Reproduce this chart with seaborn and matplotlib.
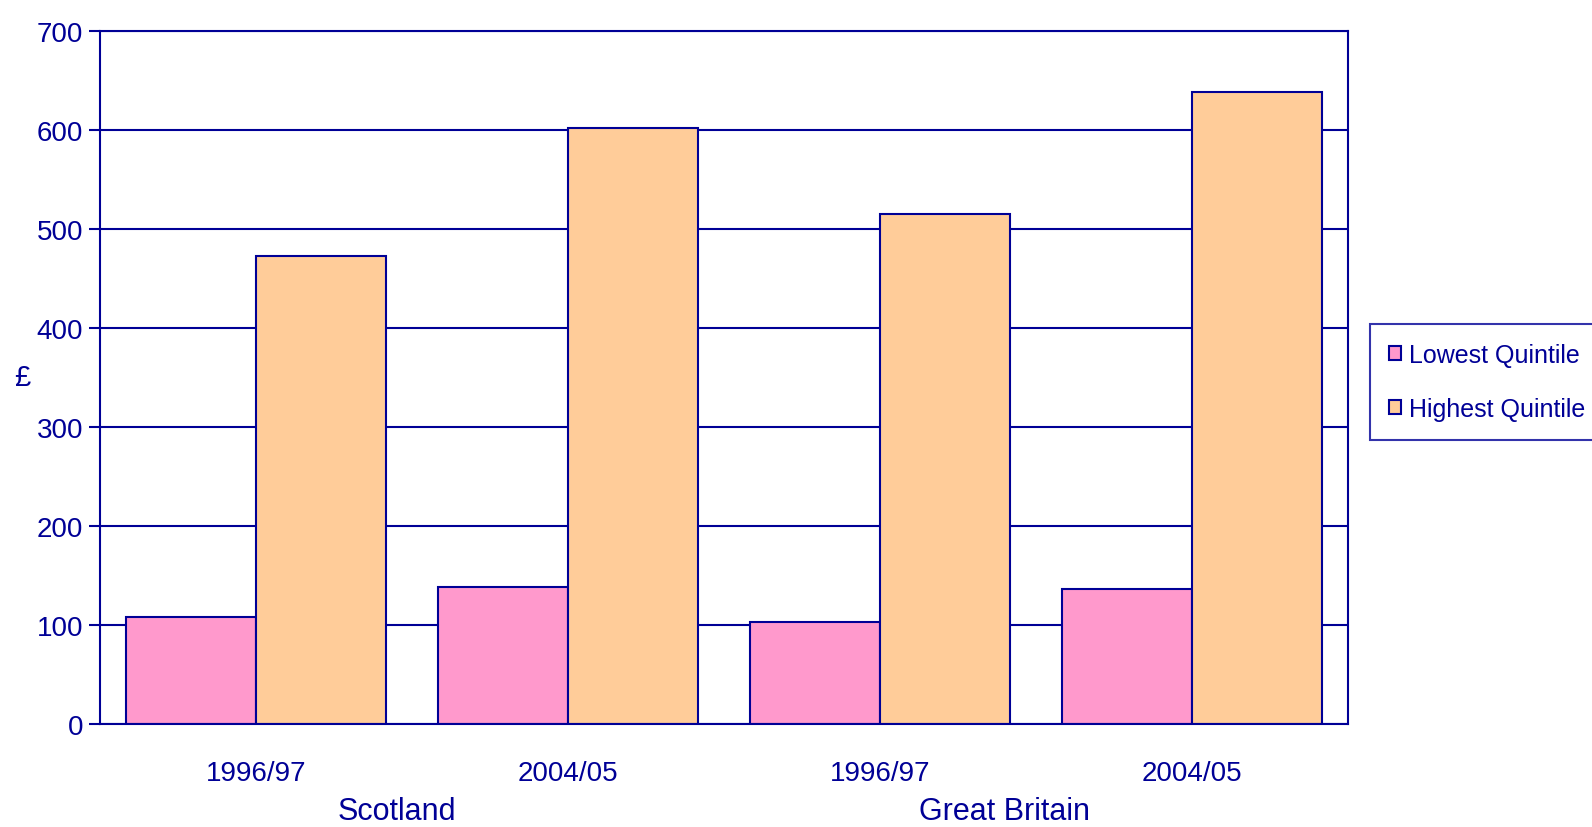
import numpy as np
import pandas as pd
import matplotlib.pyplot as plt
import seaborn as sns

# values (£)
periods = ['1996/97', '2004/05', '1996/97', '2004/05']
regions = ['Scotland', 'Scotland', 'Great Britain', 'Great Britain']
lowest = [108, 138, 103, 136]
highest = [473, 602, 515, 638]
series = ['Lowest Quintile', 'Highest Quintile']

navy = '#000096'
pink = '#FF99CC'
peach = '#FFCC99'

slots = [f'{r} {p}' for r, p in zip(regions, periods)]
df = pd.DataFrame({
    'slot': slots * 2,
    'value': lowest + highest,
    'series': [series[0]] * 4 + [series[1]] * 4,
})

sns.set_style('white')
plt.rcParams['font.family'] = ['Liberation Sans', 'DejaVu Sans']

fig = plt.figure(figsize=(15.92, 8.28), dpi=100)
ax = fig.add_axes([100 / 1592, 1 - 725 / 828, 1248 / 1592, 693 / 828])

sns.barplot(data=df, x='slot', y='value', hue='series', order=slots,
            palette=[pink, peach], width=0.833, gap=0, ax=ax,
            edgecolor=navy, linewidth=1.5, saturation=1, legend=True)

ax.set_ylim(0, 700)
ax.set_xlim(-0.5, 3.5)
ax.set_yticks(range(0, 701, 100))
ax.yaxis.grid(True, color=navy, lw=1.5)
ax.set_axisbelow(True)
for s in ax.spines.values():
    s.set_color(navy)
    s.set_linewidth(1.5)
ax.tick_params(axis='y', colors=navy, labelsize=20, length=8, width=1.5, direction='out', left=True, pad=4)
ax.tick_params(axis='x', colors=navy, labelsize=20, length=0, pad=26)
ax.set_xticks(range(4))
ax.set_xticklabels(periods)
ax.set_xlabel('')
ax.set_ylabel('')

# upright £ on the left
ax.text(-0.0625, 0.501, '£', transform=ax.transAxes, ha='center', va='center',
        color=navy, fontsize=21)

# region labels under the periods
ax.text(0.45, -0.1255, 'Scotland', transform=ax.get_xaxis_transform(), ha='center', va='center',
        color=navy, fontsize=22)
ax.text(2.4, -0.1255, 'Great Britain', transform=ax.get_xaxis_transform(), ha='center', va='center',
        color=navy, fontsize=22)

handles, labels = ax.get_legend_handles_labels()
ax.get_legend().remove()
leg = fig.legend(handles, labels, loc='upper left', bbox_to_anchor=(1370 / 1592, 1 - 325 / 828),
                 fontsize=18, frameon=True, fancybox=False, handlelength=0.5, handleheight=0.5,
                 handletextpad=0.3, borderpad=0.75, labelspacing=1.2, labelcolor=navy,
                 borderaxespad=0)
leg.get_frame().set_edgecolor(navy)
leg.get_frame().set_linewidth(1.5)

plt.savefig('out.png', dpi=100)
